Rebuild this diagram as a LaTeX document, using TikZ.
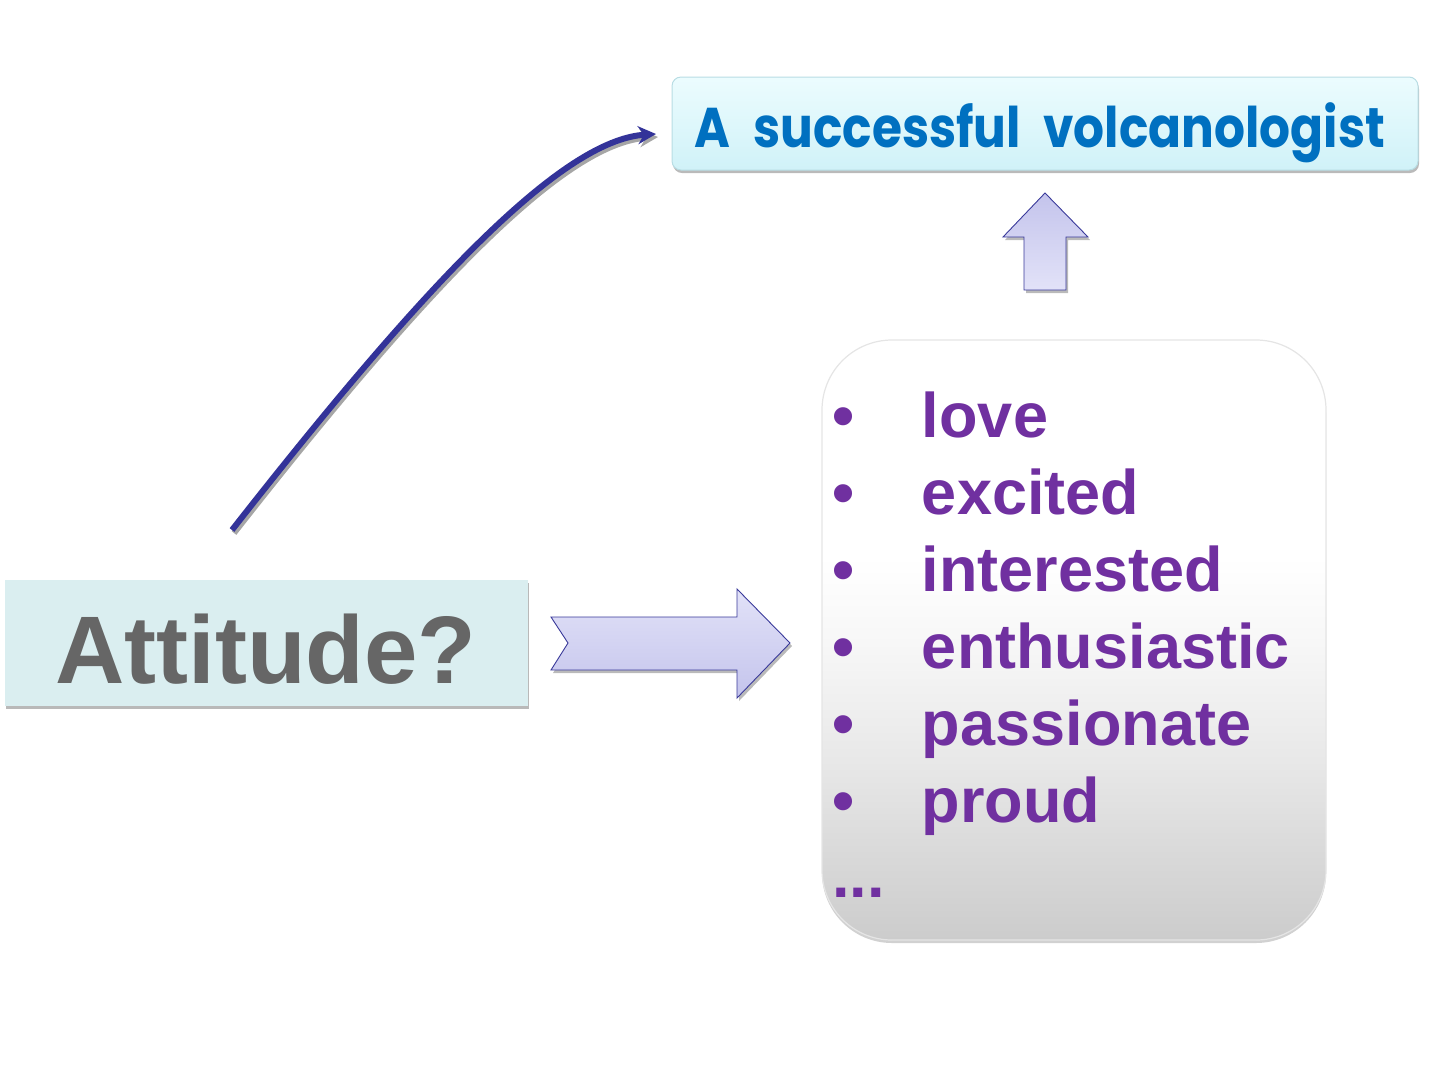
\documentclass[tikz,border=0pt]{standalone}
\usepackage{fontspec}
\setmainfont{Liberation Sans}
\newfontfamily\comicf{Poppins}
\usepackage{graphicx}
\usetikzlibrary{shadows,arrows.meta}
\definecolor{goalblue}{RGB}{0,112,192}
\definecolor{curveblue}{RGB}{51,51,153}
\definecolor{lavlight}{RGB}{226,226,248}
\definecolor{lavdark}{RGB}{196,196,236}
\definecolor{lavline}{RGB}{58,58,154}
\definecolor{listpurple}{RGB}{112,48,160}
\definecolor{attfill}{RGB}{218,238,240}
\definecolor{atttext}{RGB}{102,102,102}
\pgfdeclareverticalshading{listshade}{100bp}{
  color(0bp)=(black!20); color(25bp)=(black!20); color(32bp)=(black!15); color(40bp)=(black!9);
  color(50bp)=(black!3); color(57bp)=(white); color(100bp)=(white)}
\begin{document}
\begin{tikzpicture}[x=1pt,y=-1pt,
  goalbox/.style={rectangle,rounded corners=9pt,draw={rgb,255:red,184;green,221;blue,228},line width=1pt,
    top color={rgb,255:red,236;green,252;blue,254},bottom color={rgb,255:red,208;green,242;blue,248},
    drop shadow={shadow xshift=1pt,shadow yshift=-3pt,opacity=0.45,fill=black!60},
    minimum width=746pt,minimum height=93pt,inner sep=0pt},
  attbox/.style={rectangle,fill=attfill,
    drop shadow={shadow xshift=1pt,shadow yshift=-3pt,opacity=0.5,fill=black!55},
    minimum width=523pt,minimum height=126pt,inner sep=0pt},
  listbox/.style={rectangle,rounded corners=70pt,shading=listshade,
    draw=black!10,line width=1.2pt,
    drop shadow={shadow xshift=0pt,shadow yshift=-3pt,opacity=0.3,fill=black!60},
    minimum width=504pt,minimum height=600pt,inner sep=0pt},
  blockarrow/.style={draw=lavline,line width=0.9pt,
    drop shadow={shadow xshift=2pt,shadow yshift=-3pt,opacity=0.45,fill=black!60}},
  curvearrow/.style={draw=curveblue,line width=6pt,-{Stealth[length=18pt,width=18pt]}},
  curveshadow/.style={draw=black!35,line width=6pt,-{Stealth[length=18pt,width=18pt]}},
  txt/.style={inner sep=0pt,outer sep=0pt}
]
\useasboundingbox (0,0) rectangle (1440,1080);

% top goal box
\node[goalbox] (goal) at (1045,123.5) {};
\node[txt,text=goalblue,anchor=base] (goaltxt) at (1040,147)
  {\resizebox{690pt}{\height}{\fontsize{56}{60}\selectfont\comicf\bfseries A\hspace{14pt} successful\hspace{14pt} volcanologist}};

% attitude box
\node[attbox] (att) at (266.5,643) {};
\node[txt,text=atttext,anchor=base] (atttxt) at (266,683)
  {\fontsize{96}{100}\selectfont\bfseries Attitude?};

% list box
\node[listbox] (list) at (1074,640) {};
\node[txt,text=listpurple,anchor=base west,align=left] (items) at (832,437)
  {\fontsize{63}{77}\selectfont\bfseries
   \begin{tabular}[t]{@{}p{90pt}@{}l@{}}
   \textbullet & love\\
   \textbullet & excited\\
   \textbullet & interested\\
   \textbullet & enthusiastic\\
   \textbullet & passionate\\
   \textbullet & proud\\[-2pt]
   ... & \\
   \end{tabular}};

% up block arrow
\path[blockarrow,top color=lavdark,bottom color=lavlight] (1045,193) -- (1088,237) -- (1066,237) -- (1066,290) -- (1024,290)
  -- (1024,237) -- (1003,237) -- cycle;

% right block arrow
\path[blockarrow,top color=lavlight,bottom color=lavdark] (551,617) -- (737,617) -- (737,589) -- (790,643) -- (737,698)
  -- (737,670) -- (551,670) -- (568,643) -- cycle;

% curved arrow
\coordinate (cs) at (232,530);
\coordinate (ce) at (656,134);
\coordinate (css) at (234,533);
\coordinate (ces) at (658,137);
\draw[curveshadow] (css) .. controls (422,293) and (562,143) .. (ces);
\draw[curvearrow] (cs) .. controls (420,290) and (560,140) .. (ce);
\end{tikzpicture}
\end{document}
